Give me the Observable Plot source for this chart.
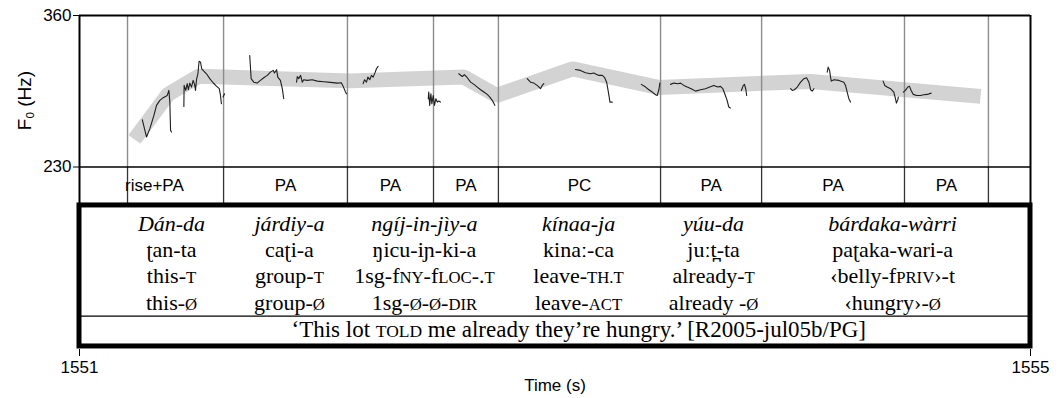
<!DOCTYPE html>
<html><head><meta charset="utf-8">
<script src="https://cdn.jsdelivr.net/npm/d3@7"></script>
<script src="https://cdn.jsdelivr.net/npm/@observablehq/plot@0.6"></script>
<style>body{margin:0;background:#fff} #chart svg{display:block;overflow:visible}</style>
</head><body><div id="chart"></div>
<script>
// ---------- DATA ----------
// F0 contour pieces: [time (s), F0 (Hz)]
const pitchSegments = [
  [[1551.264,270.6],[1551.282,255.7],[1551.296,262.9],[1551.313,274.3],[1551.324,282.9],[1551.338,287.2],[1551.352,289.5],[1551.369,291.4],[1551.376,295.7],[1551.380,285.7],[1551.383,261.5],[1551.387,260.0]],
  [[1551.439,282.0],[1551.440,300.0],[1551.447,295.7],[1551.453,301.5],[1551.458,296.3],[1551.464,302.0],[1551.471,298.6],[1551.478,304.3],[1551.484,300.9],[1551.488,295.7],[1551.492,304.9],[1551.498,310.0],[1551.503,320.8],[1551.509,320.0],[1551.514,314.3],[1551.523,312.3],[1551.534,310.0],[1551.548,305.8],[1551.562,302.3],[1551.576,299.4],[1551.588,297.2],[1551.593,291.4],[1551.597,284.3]],
  [[1551.604,290.0],[1551.610,292.9]],
  [[1551.716,325.7],[1551.722,305.8],[1551.733,302.8],[1551.747,302.0],[1551.761,304.3],[1551.775,306.6],[1551.790,308.6],[1551.803,311.4],[1551.815,312.9],[1551.820,310.6],[1551.829,313.5],[1551.834,307.1],[1551.845,304.3],[1551.853,297.2],[1551.859,288.6]],
  [[1551.913,302.8],[1551.916,307.7],[1551.922,305.8],[1551.930,308.6],[1551.937,302.8],[1551.943,304.9],[1551.958,304.3],[1551.979,304.9],[1552.000,303.7],[1552.028,303.2],[1552.056,302.6],[1552.084,302.0],[1552.101,302.3],[1552.109,299.2],[1552.119,294.3],[1552.123,292.9]],
  [[1552.193,301.5],[1552.199,304.9],[1552.207,302.8],[1552.213,307.1],[1552.221,304.9],[1552.228,308.6],[1552.235,307.1],[1552.244,311.4],[1552.249,314.3],[1552.256,316.3]],
  [[1552.467,288.6],[1552.469,294.3],[1552.473,282.9],[1552.478,292.9],[1552.482,284.3],[1552.488,291.4],[1552.493,282.9],[1552.499,288.6],[1552.505,285.7],[1552.511,286.6],[1552.518,285.7]],
  [[1552.595,310.0],[1552.610,307.7],[1552.619,309.2],[1552.631,306.6],[1552.645,302.8],[1552.659,300.9],[1552.673,298.6],[1552.687,296.3],[1552.701,294.3],[1552.715,292.3],[1552.726,290.0],[1552.736,287.2],[1552.747,282.9]],
  [[1552.883,305.8],[1552.897,302.8],[1552.911,302.0],[1552.925,300.0],[1552.939,297.2],[1552.946,300.0],[1552.953,301.5]],
  [[1553.086,313.7],[1553.107,312.9],[1553.128,310.9],[1553.149,310.0],[1553.163,310.6],[1553.184,308.6],[1553.199,308.6],[1553.209,306.6],[1553.217,302.8],[1553.222,297.2],[1553.228,290.0],[1553.231,285.7],[1553.241,285.7]],
  [[1553.363,300.9],[1553.381,298.6],[1553.395,296.3],[1553.409,294.3],[1553.423,292.0],[1553.430,291.4],[1553.437,296.3],[1553.441,302.0]],
  [[1553.486,300.9],[1553.500,302.0],[1553.517,301.5],[1553.528,302.0],[1553.542,300.0],[1553.556,298.6],[1553.573,297.2],[1553.591,295.1],[1553.612,296.3],[1553.633,297.2],[1553.651,298.6],[1553.668,300.0],[1553.685,298.6],[1553.696,299.2],[1553.706,297.2],[1553.714,292.9],[1553.724,287.2],[1553.731,281.4],[1553.738,280.6]],
  [[1553.784,295.7],[1553.792,300.0],[1553.797,300.9],[1553.803,296.3],[1553.806,291.4]],
  [[1553.991,297.2],[1553.998,295.7],[1554.007,296.3],[1554.019,298.6],[1554.033,302.8],[1554.047,305.8],[1554.058,306.6],[1554.068,302.8],[1554.075,296.3],[1554.082,295.1],[1554.089,297.2]],
  [[1554.145,311.4],[1554.149,315.7],[1554.155,312.9],[1554.159,307.1],[1554.162,303.7],[1554.173,304.9],[1554.194,304.3],[1554.215,302.8],[1554.222,300.0],[1554.229,294.3],[1554.236,288.6],[1554.243,285.7]],
  [[1554.380,303.7],[1554.387,300.0],[1554.397,298.6],[1554.411,297.2],[1554.425,294.3],[1554.432,288.6],[1554.436,284.8],[1554.442,287.8],[1554.444,290.0]],
  [[1554.465,294.3],[1554.474,295.7],[1554.484,298.6],[1554.491,299.2],[1554.498,295.7],[1554.507,292.3],[1554.521,291.4],[1554.537,291.4],[1554.551,292.0],[1554.566,292.3],[1554.582,293.4]]
];

// Stylised (thick grey) contour
const stylTimes = [1551.231, 1551.372, 1551.501, 1552.140, 1552.615, 1552.754, 1553.074, 1553.435, 1554.075, 1554.790];
const stylF0    = [253.7, 292.3, 307.9, 303.9, 307.3, 291.4, 314.2, 298.3, 303.4, 290.6];

// Tier boundaries and labels
const tierBoundaries = [1551.202, 1551.606, 1552.127, 1552.489, 1552.762, 1553.444, 1553.869, 1554.470, 1554.823];
const tierLabels = ["rise+PA", "PA", "PA", "PA", "PC", "PA", "PA", "PA"];
const tierStarts = [1551.024, 1551.606, 1552.127, 1552.489, 1552.762, 1553.444, 1553.869, 1554.470];
const tierEnds   = [1551.606, 1552.127, 1552.489, 1552.762, 1553.444, 1553.869, 1554.470, 1554.823];

// Interlinear gloss ({...} = small caps)
const glossTimes = [1551.387, 1551.883, 1552.451, 1553.099, 1553.667, 1554.420];
const glossWords = ["Dán-da", "járdiy-a", "ngíj-in-jìy-a", "kínaa-ja", "yúu-da", "bárdaka-wàrri"];
const glossIPA   = ["ʈan-ta", "caʈi-a", "ŋicu-iɲ-ki-a", "kinaː-ca", "juːt̪-ta", "paʈaka-wari-a"];
const glossMorph = ["this-{t}", "group-{t}", "1sg-f{ny}-f{loc}-.{t}", "leave-{th.t}", "already-{t}", "‹belly-f{priv}›-t"];
const glossFunc  = ["this-{ø}", "group-{ø}", "1sg-{ø}-{ø}-{dir}", "leave-{act}", "already -{ø}", "‹hungry›-{ø}"];
const translation = "‘This lot {told} me already they’re hungry.’ [R2005-jul05b/PG]";
const translationTime = 1553.10;

// Axes
const xTicks = [1551, 1555];
const yTicks = [230, 360];
const yLabel = "F0 (Hz)";
const xLabel = "Time (s)";

// ---------- LAYOUT (in F0-scale units below the 230 Hz floor) ----------
const Y_MIN = 73.4, TIER_LABEL_Y = 214.1, BOX_TOP = 197.0, BOX_BOTTOM = 76.0, SEP_Y = 102.0;
const ROW0 = 181.5, ROW_STEP = 22.7;
const rowY = i => ROW0 - ROW_STEP * i;
const Y_LABEL_POS = 287;

// ---------- BUILD ----------
const pitch = pitchSegments.flatMap((seg, i) => seg.map(([t, f]) => ({seg: i, t, f})));
const styl = stylTimes.map((t, i) => ({t, f: stylF0[i]}));
const tier = tierLabels.map((label, i) => ({label, t: (tierStarts[i] + tierEnds[i]) / 2}));
const glossRows = [glossWords, glossIPA, glossMorph, glossFunc];
const gloss = glossRows.flatMap((row, r) => row.map((text, j) => ({text, t: glossTimes[j], y: rowY(r), row: r})));
const trans = [{text: translation, t: translationTime, y: rowY(4)}];

const serif = "'Liberation Serif', 'Times New Roman', serif";

const svg = Plot.plot({
  width: 1061, height: 398,
  marginLeft: 79, marginRight: 31, marginTop: 15, marginBottom: 49,
  style: {fontFamily: "'Liberation Sans', Arial, Helvetica, sans-serif", fontSize: "17px", background: "#fff", color: "#000"},
  x: {domain: [1551, 1555]},
  y: {domain: [Y_MIN, 360]},
  marks: [
    Plot.line(styl, {x: "t", y: "f", stroke: "#d3d3d3", strokeWidth: 15, strokeLinejoin: "miter", strokeLinecap: "butt"}),
    Plot.ruleX(tierBoundaries, {y1: 230, y2: 360, stroke: "#8c8c8c", strokeWidth: 1.4}),
    Plot.ruleX(tierBoundaries, {y1: BOX_TOP, y2: 230, stroke: "#333", strokeWidth: 1.3}),
    Plot.line(pitch, {x: "t", y: "f", z: "seg", stroke: "#1e1e1e", strokeWidth: 1.1}),
    Plot.ruleY([360], {stroke: "#000", strokeWidth: 2}),
    Plot.ruleY([230], {stroke: "#000", strokeWidth: 1.3}),
    Plot.ruleX([1551, 1555], {y1: BOX_TOP, y2: 360, stroke: "#000", strokeWidth: 2}),
    Plot.text(tier, {x: "t", y: TIER_LABEL_Y, text: "label", fontSize: 17}),
    Plot.rect([{x1: 1551, x2: 1555, y1: BOX_BOTTOM, y2: BOX_TOP}], {x1: "x1", x2: "x2", y1: "y1", y2: "y2", fill: "none", stroke: "#000", strokeWidth: 5}),
    Plot.ruleY([SEP_Y], {stroke: "#000", strokeWidth: 1.3}),
    Plot.text(gloss.filter(d => d.row === 0), {x: "t", y: "y", text: "text", fontFamily: serif, fontSize: 22, fontStyle: "italic"}),
    Plot.text(gloss.filter(d => d.row > 0), {x: "t", y: "y", text: "text", fontFamily: serif, fontSize: 22}),
    Plot.text(trans, {x: "t", y: "y", text: "text", fontFamily: serif, fontSize: 23}),
    Plot.axisY({ticks: yTicks, tickSize: 6, tickPadding: 2, label: null, fontSize: 17}),
    Plot.axisX({ticks: xTicks, tickSize: 7, tickPadding: 4, tickFormat: d => String(d), label: null, fontSize: 17}),
    Plot.text([xLabel], {frameAnchor: "bottom", dy: 36, fontSize: 17, textAnchor: "middle", lineAnchor: "middle"}),
    Plot.text([yLabel], {y: () => Y_LABEL_POS, frameAnchor: "left", dx: -55, rotate: -90, fontSize: 19, textAnchor: "middle", lineAnchor: "middle"})
  ]
});

const NS = "http://www.w3.org/2000/svg";
svg.querySelectorAll("text").forEach(node => {
  const s = node.textContent;
  if (s === yLabel) {
    node.textContent = "";
    const a = document.createElementNS(NS, "tspan"); a.textContent = "F";
    const b = document.createElementNS(NS, "tspan"); b.textContent = "0"; b.setAttribute("font-size", "0.62em"); b.setAttribute("dy", "0.3em");
    const c = document.createElementNS(NS, "tspan"); c.textContent = " (Hz)"; c.setAttribute("dy", "-0.19em");
    node.append(a, b, c);
    return;
  }
  if (!s.includes("{")) return;
  node.textContent = "";
  for (const part of s.split(/(\{[^}]*\})/)) {
    if (!part) continue;
    const ts = document.createElementNS(NS, "tspan");
    if (part.startsWith("{")) {
      ts.textContent = part.slice(1, -1).toUpperCase();
      ts.setAttribute("font-size", "0.76em");
    } else ts.textContent = part;
    node.appendChild(ts);
  }
});
document.getElementById("chart").append(svg);
</script>
</body></html>
